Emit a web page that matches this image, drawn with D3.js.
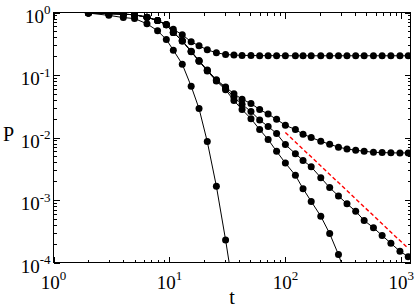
<!DOCTYPE html>
<html><head><meta charset="utf-8">
<script src="https://cdn.jsdelivr.net/npm/d3@7"></script>
<style>body{margin:0;background:#fff}svg{display:block}</style>
</head><body>
<svg id="c" width="415" height="308"></svg>
<script>
// ---- data ----
const times = [2,3,4,5,6.4,7.9,9.4,10.8,12.9,15.4,18,21.2,25.4,30.5,36,42.3,50.5,60,71,84,100,122,142,167,202,241,287,340,404,478,575,683,813,973,1147];

const series1 = [0.98,0.90,0.83,0.80,0.66,0.51,0.37,0.25,0.149,0.066,0.029,0.0086,0.00166,0.00023,0.000032];
const series2 = [0.98,0.96,0.94,0.92,0.84,0.745,0.635,0.48,0.35,0.235,0.166,0.116,0.08,0.058,0.039,0.028,0.020,0.0134,0.0093,0.0060,0.0039,0.00248,0.00152,0.00095,0.00055,0.00029,0.000134,0.000055];
const series3 = [0.98,0.96,0.94,0.92,0.84,0.745,0.635,0.48,0.35,0.237,0.168,0.118,0.082,0.061,0.044,0.034,0.026,0.019,0.015,0.0116,0.0077,0.0055,0.0043,0.0034,0.00228,0.00158,0.00116,0.00087,0.00066,0.00047,0.00036,0.00027,0.000203,0.000151,0.000124];
const series4 = [0.98,0.96,0.94,0.92,0.84,0.745,0.635,0.48,0.355,0.24,0.17,0.12,0.084,0.064,0.050,0.041,0.035,0.028,0.0237,0.0195,0.0157,0.0134,0.0113,0.0100,0.0087,0.0078,0.0070,0.00656,0.00625,0.00603,0.0058,0.00574,0.00568,0.00566,0.00566];
const series5 = [0.98,0.96,0.94,0.92,0.84,0.745,0.64,0.54,0.44,0.34,0.293,0.253,0.227,0.213,0.208,0.206,0.205,0.204,0.204,0.204,0.203,0.203,0.203,0.203,0.203,0.203,0.203,0.203,0.203,0.203,0.203,0.203,0.203,0.203,0.203];

const refTimes = [100, 1120];
const refValues = [0.012, 0.000175];

const xTickValues = [1, 10, 100, 1000];
const xTickExponents = ["0", "1", "2", "3"];
const yTickValues = [1, 0.1, 0.01, 0.001, 0.0001];
const yTickExponents = ["0", "-1", "-2", "-3", "-4"];
const xTitle = "t";
const yTitle = "P";

// ---- drawing ----
const svg = d3.select("#c");
const L = 53.5, R = 410.5, T = 12.5, B = 262.5;
const x = d3.scaleLog().domain([1, 1200]).range([L, R]);
const y = d3.scaleLog().domain([1e-4, 1]).range([B, T]);
const font = "'Liberation Serif','Times New Roman',serif";

svg.append("defs").append("clipPath").attr("id","clip")
  .append("rect").attr("x",L).attr("y",T).attr("width",R-L).attr("height",B-T);

const plot = svg.append("g").attr("clip-path","url(#clip)");
const line = d3.line().x(d=>x(d[0])).y(d=>y(d[1]));
const allSeries = [series1, series2, series3, series4, series5];

allSeries.forEach(s => {
  const pts = s.map((v,i)=>[times[i], v]);
  plot.append("path").datum(pts).attr("d", line)
    .attr("fill","none").attr("stroke","#000").attr("stroke-width",1);
});
allSeries.forEach(s => {
  const pts = s.map((v,i)=>[times[i], v]);
  plot.selectAll(null).data(pts).enter().append("circle")
    .attr("cx",d=>x(d[0])).attr("cy",d=>y(d[1])).attr("r",3.5).attr("fill","#000");
});
plot.append("path").datum(refTimes.map((t,i)=>[t, refValues[i]])).attr("d", line)
  .attr("fill","none").attr("stroke","#ff0000").attr("stroke-width",1.4)
  .attr("stroke-dasharray","4,2.5");

// axes (ticks inward on all sides)
const isMajor = v => Math.abs(Math.log10(v) - Math.round(Math.log10(v))) < 1e-6;
const xMinor = x.ticks().filter(v => !isMajor(v));
const yMinor = y.ticks().filter(v => !isMajor(v));

function addAxis(axisFn, scale, vals, size, transform) {
  const g = svg.append("g").attr("transform", transform)
    .call(axisFn(scale).tickValues(vals).tickSize(size).tickSizeOuter(0).tickFormat(()=> ""));
  g.select(".domain").remove();
  g.selectAll("line").attr("stroke","#000").attr("shape-rendering","crispEdges");
  g.selectAll("text").remove();
}
addAxis(d3.axisBottom, x, xTickValues, -6, `translate(0,${B})`);
addAxis(d3.axisBottom, x, xMinor, -3, `translate(0,${B})`);
addAxis(d3.axisTop, x, xTickValues, -6, `translate(0,${T})`);
addAxis(d3.axisTop, x, xMinor, -3, `translate(0,${T})`);
addAxis(d3.axisLeft, y, yTickValues, -6, `translate(${L},0)`);
addAxis(d3.axisLeft, y, yMinor, -3, `translate(${L},0)`);
addAxis(d3.axisRight, y, yTickValues, -6, `translate(${R},0)`);
addAxis(d3.axisRight, y, yMinor, -3, `translate(${R},0)`);

svg.append("rect").attr("x",L).attr("y",T).attr("width",R-L).attr("height",B-T)
  .attr("fill","none").attr("stroke","#000").attr("stroke-width",1).attr("shape-rendering","crispEdges");

// tick labels
xTickValues.forEach((v,i) => {
  const t = svg.append("text").attr("x", x(v)).attr("y", 288.5)
    .attr("text-anchor","middle").attr("font-family",font).attr("font-size",19).attr("fill","#000");
  t.append("tspan").text("10");
  t.append("tspan").attr("font-size",13).attr("dy",-8.5).text(xTickExponents[i]);
});
yTickValues.forEach((v,i) => {
  const t = svg.append("text").attr("x", 50.5).attr("y", y(v) + 10)
    .attr("text-anchor","end").attr("font-family",font).attr("font-size",19).attr("fill","#000");
  t.append("tspan").text("10");
  t.append("tspan").attr("font-size",13).attr("dy",-8.5).text(yTickExponents[i]);
});

svg.append("text").attr("x",(L+R)/2).attr("y",303.5).attr("text-anchor","middle")
  .attr("font-family",font).attr("font-size",20).text(xTitle);
svg.append("text").attr("x",3).attr("y",141)
  .attr("font-family",font).attr("font-size",20).text(yTitle);
</script>
</body></html>
